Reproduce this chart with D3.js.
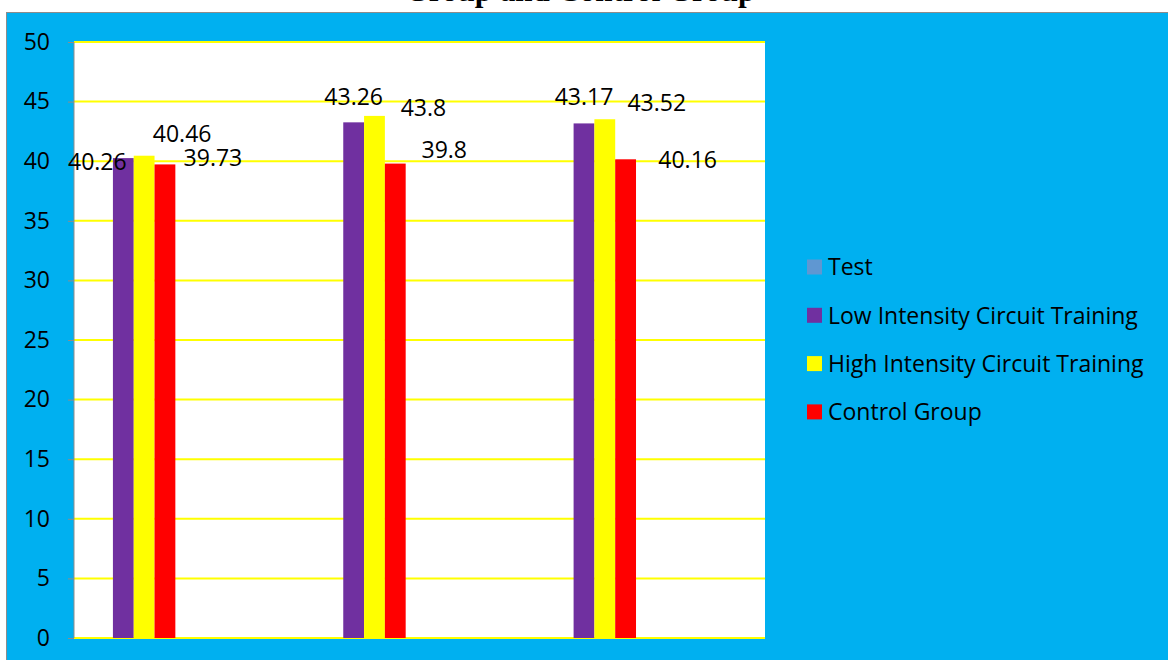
<!DOCTYPE html>
<html>
<head>
<meta charset="utf-8">
<script src="https://cdn.jsdelivr.net/npm/d3@7"></script>
<style>
  html, body { margin: 0; padding: 0; background: #ffffff; }
  svg { display: block; }
</style>
</head>
<body>
<svg id="chart" width="1168" height="660"></svg>
<script>
// ---- data ----
const categories = ["Pre-Test", "Mid-Test", "Post-Test"];
const legendNames = ["Test", "Low Intensity Circuit Training", "High Intensity Circuit Training", "Control Group"];
const plottedSeries = ["Low Intensity Circuit Training", "High Intensity Circuit Training", "Control Group"];
const lowIntensity = [40.26, 43.26, 43.17];
const highIntensity = [40.46, 43.8, 43.52];
const controlGroup = [39.73, 39.8, 40.16];
const yTickValues = [0, 5, 10, 15, 20, 25, 30, 35, 40, 45, 50];
const titleText = "Group and Control Group";

// ---- styling / layout ----
const colors = {
  "Test": "#5f97d2",
  "Low Intensity Circuit Training": "#7030a0",
  "High Intensity Circuit Training": "#ffff00",
  "Control Group": "#ff0000"
};
// hand-placed value labels: [dx from bar centre, dy of label centre from bar top]
const labelNudges = [
  [[-26, 4], [0, -26], [0, -27]],
  [[38, -22], [49, -8], [52, -17]],
  [[48, -7], [49, -14], [62, 0]]
];

const seriesValues = {
  "Low Intensity Circuit Training": lowIntensity,
  "High Intensity Circuit Training": highIntensity,
  "Control Group": controlGroup
};

const svg = d3.select("#chart");
const W = 1168, H = 660;
const plot = { left: 74, right: 765, top: 42, bottom: 638 };
const textFont = "Open Sans, sans-serif";

// outer frame
svg.append("rect")
  .attr("x", 6.5).attr("y", 12.5)
  .attr("width", W).attr("height", H)
  .attr("fill", "#00b0f0")
  .attr("stroke", "#8c8c8c").attr("stroke-width", 1);

// title (sits above the frame, mostly outside the page)
svg.append("text")
  .attr("x", 580).attr("y", 1)
  .attr("text-anchor", "middle")
  .attr("font-family", "Liberation Serif, Times New Roman, serif")
  .attr("font-weight", "bold")
  .attr("font-size", 31)
  .attr("fill", "#000")
  .text(titleText);

// plot area
svg.append("rect")
  .attr("x", plot.left).attr("y", plot.top)
  .attr("width", plot.right - plot.left).attr("height", plot.bottom - plot.top)
  .attr("fill", "#ffffff");

const y = d3.scaleLinear().domain([0, 50]).range([plot.bottom, plot.top]);
const x0 = d3.scaleBand().domain(categories).range([plot.left, plot.right]).padding(0);
const bw = x0.bandwidth();
const x1 = d3.scaleBand().domain(plottedSeries).range([bw * 0.169, bw * 0.44]).padding(0);

// gridlines
svg.append("g").selectAll("line")
  .data(yTickValues)
  .join("line")
  .attr("x1", plot.left).attr("x2", plot.right)
  .attr("y1", d => y(d)).attr("y2", d => y(d))
  .attr("stroke", "#ffff00").attr("stroke-width", 2);

// bars
const groups = svg.append("g").selectAll("g")
  .data(categories)
  .join("g")
  .attr("transform", d => `translate(${x0(d)},0)`);

groups.selectAll("rect")
  .data((c, i) => plottedSeries.map(s => ({ s, v: seriesValues[s][i] })))
  .join("rect")
  .attr("x", d => x1(d.s))
  .attr("width", x1.bandwidth())
  .attr("y", d => y(d.v))
  .attr("height", d => y(0) - y(d.v))
  .attr("fill", d => colors[d.s]);

// y axis
const yAxis = d3.axisLeft(y).tickValues(yTickValues).tickSize(6).tickPadding(18).tickFormat(d3.format("d"));
const ag = svg.append("g").attr("transform", `translate(${plot.left},0)`).call(yAxis);
ag.select(".domain").attr("stroke", "#8c8c8c").attr("d", `M0,${plot.top}V${plot.bottom}`);
ag.selectAll(".tick line").attr("stroke", "#8c8c8c");
ag.selectAll(".tick text")
  .attr("font-family", textFont)
  .attr("font-size", 23)
  .attr("fill", "#000");

// value labels
const labelLayer = svg.append("g");
plottedSeries.forEach((s, si) => {
  categories.forEach((c, ci) => {
    const v = seriesValues[s][ci];
    const [dx, dy] = labelNudges[si][ci];
    labelLayer.append("text")
      .attr("x", x0(c) + x1(s) + x1.bandwidth() / 2 + dx)
      .attr("y", y(v) + dy)
      .attr("dy", "0.36em")
      .attr("text-anchor", "middle")
      .attr("font-family", textFont)
      .attr("font-size", 23)
      .attr("fill", "#000")
      .text(v);
  });
});

// legend
const legend = svg.append("g").attr("transform", "translate(807,267)");
const rows = legend.selectAll("g")
  .data(legendNames)
  .join("g")
  .attr("transform", (d, i) => `translate(0,${i * 48.3})`);
rows.append("rect")
  .attr("x", 0).attr("y", -7.5)
  .attr("width", 15).attr("height", 15)
  .attr("fill", d => colors[d]);
rows.append("text")
  .attr("x", 21).attr("y", 0)
  .attr("dy", "0.36em")
  .attr("font-family", textFont)
  .attr("font-size", 23)
  .attr("fill", "#000")
  .text(d => d);
</script>
</body>
</html>
